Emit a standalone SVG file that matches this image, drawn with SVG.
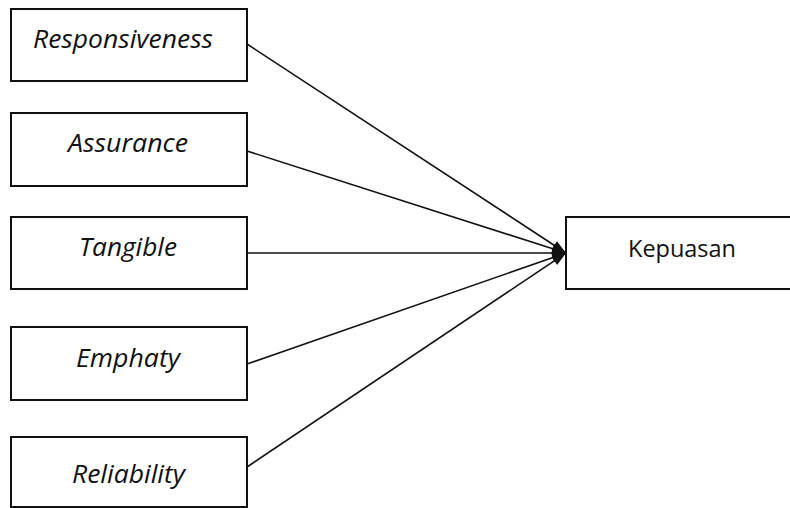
<svg xmlns="http://www.w3.org/2000/svg" width="790" height="508" viewBox="0 0 790 508">
<defs>
<style>
.box{fill:#ffffff;stroke:#111111;stroke-width:2}
.lbl{font-family:"Open Sans","Liberation Sans",sans-serif;font-size:26px;font-style:italic;fill:#111111}
.lbl2{font-family:"Open Sans","Liberation Sans",sans-serif;font-size:24px;fill:#111111}
.conn{stroke:#111111;stroke-width:1.6;fill:none}
</style>
<marker id="arr" markerWidth="16" markerHeight="12" refX="15" refY="6" orient="auto" markerUnits="userSpaceOnUse">
<path d="M1,1 L15,6 L1,11 Z" fill="#111111"/>
</marker>
</defs>
<rect width="790" height="508" fill="#ffffff"/>
<g id="connectors">
<line class="conn" x1="247" y1="44" x2="566" y2="253" marker-end="url(#arr)"/>
<line class="conn" x1="247" y1="151" x2="566" y2="253" marker-end="url(#arr)"/>
<line class="conn" x1="247" y1="253" x2="566" y2="253" marker-end="url(#arr)"/>
<line class="conn" x1="247" y1="364" x2="566" y2="253" marker-end="url(#arr)"/>
<line class="conn" x1="247" y1="467" x2="566" y2="253" marker-end="url(#arr)"/>
</g>
<g id="responsiveness">
<rect class="box" x="11" y="9" width="236" height="72"/>
<text class="lbl" x="33" y="48" textLength="180" lengthAdjust="spacingAndGlyphs">Responsiveness</text>
</g>
<g id="assurance">
<rect class="box" x="11" y="113" width="236" height="73"/>
<text class="lbl" x="68" y="152" textLength="120" lengthAdjust="spacingAndGlyphs">Assurance</text>
</g>
<g id="tangible">
<rect class="box" x="11" y="217" width="236" height="72"/>
<text class="lbl" x="79" y="256" textLength="98" lengthAdjust="spacingAndGlyphs">Tangible</text>
</g>
<g id="emphaty">
<rect class="box" x="11" y="327" width="236" height="73"/>
<text class="lbl" x="76" y="367" textLength="104" lengthAdjust="spacingAndGlyphs">Emphaty</text>
</g>
<g id="reliability">
<rect class="box" x="11" y="437" width="236" height="70"/>
<text class="lbl" x="72" y="483" textLength="113" lengthAdjust="spacingAndGlyphs">Reliability</text>
</g>
<g id="kepuasan">
<rect class="box" x="566" y="217" width="240" height="72"/>
<text class="lbl2" x="628" y="257" textLength="108" lengthAdjust="spacingAndGlyphs">Kepuasan</text>
</g>
</svg>
